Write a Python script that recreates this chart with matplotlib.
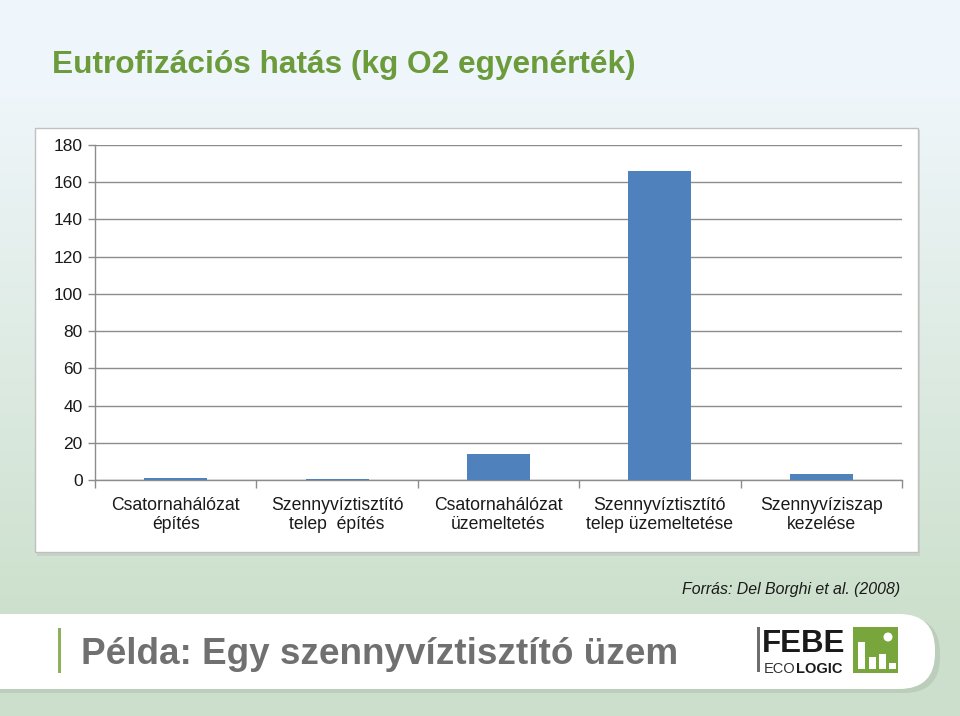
import matplotlib
matplotlib.use("Agg")
import matplotlib.pyplot as plt
import numpy as np
from matplotlib.patches import Rectangle, FancyBboxPatch, Circle

plt.rcParams['font.family'] = ['Liberation Sans', 'DejaVu Sans']

# ---- data ----
categories = ["Csatornahálózat\népítés",
              "Szennyvíztisztító\ntelep  építés",
              "Csatornahálózat\nüzemeltetés",
              "Szennyvíztisztító\ntelep üzemeltetése",
              "Szennyvíziszap\nkezelése"]
values = [1.2, 0.8, 13.8, 166.0, 3.4]
yticks = [0, 20, 40, 60, 80, 100, 120, 140, 160, 180]

title = "Eutrofizációs hatás (kg O2 egyenérték)"
source = "Forrás: Del Borghi et al. (2008)"
subtitle = "Példa: Egy szennyvíztisztító üzem"

W, H = 960, 716
fig = plt.figure(figsize=(W/100, H/100), dpi=100)

def fx(px): return px / W
def fy(py): return 1 - py / H

# background layer in pixel coordinates (y downwards)
bg = fig.add_axes([0, 0, 1, 1], zorder=-10)
bg.set_axis_off()
t = np.linspace(0, 1, 256)[:, None]
top = np.array([0.940, 0.965, 0.985])
bot = np.array([0.800, 0.878, 0.800])
grad = top + (bot - top) * np.clip((t - 0.12) / 0.75, 0, 1)[..., None]
grad = np.repeat(grad, 4, axis=1)
bg.imshow(grad, aspect='auto', extent=[0, W, H, 0], zorder=0)
bg.set_xlim(0, W); bg.set_ylim(H, 0)

# chart panel
bg.add_patch(Rectangle((37, 130), 883, 426, facecolor='#bccabc', edgecolor='none',
                       alpha=0.6, zorder=1))
bg.add_patch(Rectangle((35, 128), 883, 424, facecolor='white', edgecolor='#c0c0c0',
                       linewidth=1.0, zorder=2))

# bottom banner
bg.add_patch(FancyBboxPatch((-60, 617), 1000, 76, boxstyle="round,pad=0,rounding_size=36",
                            facecolor='#b4c8b4', edgecolor='none', alpha=0.7, zorder=1))
bg.add_patch(FancyBboxPatch((-60, 614), 995, 75, boxstyle="round,pad=0,rounding_size=36",
                            facecolor='white', edgecolor='none', zorder=2))
bg.add_patch(Rectangle((58, 628), 3, 45, facecolor='#8db05a', edgecolor='none', zorder=3))

# logo decoration
bg.add_patch(Rectangle((757, 627), 3, 45, facecolor='#6e6e6e', edgecolor='none', zorder=3))
bg.add_patch(Rectangle((853, 627), 45, 46, facecolor='#78a53c', edgecolor='none', zorder=3))
for (bx, btop) in [(858, 642), (869, 657), (879, 654), (889, 663)]:
    bg.add_patch(Rectangle((bx, btop), 7, 669 - btop, facecolor='white', edgecolor='none',
                           zorder=4))
bg.add_patch(Circle((888, 637), 4.5, facecolor='white', edgecolor='none', zorder=4))

# main axes
ax = fig.add_axes([fx(95), fy(480), fx(902) - fx(95), fy(145) - fy(480)])
x = np.arange(len(categories))
ax.bar(x, values, width=0.39, color='#4f81bd', zorder=3)
ax.set_xlim(-0.5, len(categories) - 0.5)
ax.set_ylim(0, 180)
ax.set_yticks(yticks)
ax.set_yticklabels([str(v) for v in yticks], fontsize=12.5, color='#1a1a1a')
ax.yaxis.grid(True, color='#8c8c8c', linewidth=1.0, zorder=0)
ax.set_xticks(x)
ax.set_xticklabels(categories, fontsize=12.7, color='#1a1a1a', linespacing=1.2)
ax.set_xticks(np.arange(-0.5, len(categories)), minor=True)
ax.tick_params(axis='x', which='major', length=0, pad=12)
ax.tick_params(axis='x', which='minor', length=6, color='#8c8c8c', width=1)
ax.tick_params(axis='y', length=5, color='#8c8c8c', width=1, pad=4)
for s in ['top', 'right']:
    ax.spines[s].set_visible(False)
for s in ['left', 'bottom']:
    ax.spines[s].set_color('#8c8c8c')
    ax.spines[s].set_linewidth(1.0)
ax.set_facecolor('white')

# texts
fig.text(fx(52), fy(73), title, fontsize=22.8, fontweight='bold', color='#6b9b3b',
         ha='left', va='baseline')
fig.text(fx(900), fy(594), source, fontsize=11.4, fontstyle='italic', color='#1a1a1a',
         ha='right', va='baseline')
fig.text(fx(81), fy(664), subtitle, fontsize=26.6, fontweight='bold', color='#707070',
         ha='left', va='baseline')

# logo texts
fig.text(fx(762), fy(652), "FEBE", fontsize=22.5, fontweight='bold', color='#1a1a1a',
         ha='left', va='baseline')
eco = fig.text(fx(764), fy(673), "ECO", fontsize=10.5, color='#333333', ha='left',
               va='baseline')
fig.canvas.draw()
bb = eco.get_window_extent()
fig.text(bb.x1 / W, fy(673), "LOGIC", fontsize=10.5, fontweight='bold', color='#1a1a1a',
         ha='left', va='baseline')

fig.savefig("out.png", dpi=100)
